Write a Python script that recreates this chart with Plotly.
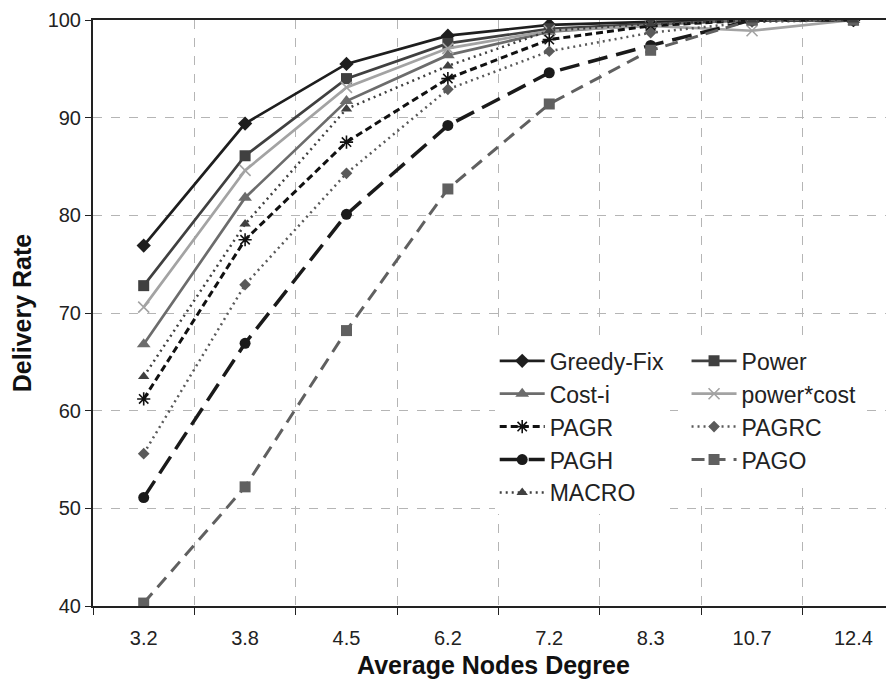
import plotly.graph_objects as go

categories = ["3.2", "3.8", "4.5", "6.2", "7.2", "8.3", "10.7", "12.4"]

greedy_fix = [76.9, 89.4, 95.5, 98.4, 99.5, 99.8, 100, 100]
power = [72.8, 86.1, 94.0, 97.6, 99.1, 99.6, 100, 100]
cost_i = [66.8, 81.8, 91.7, 96.4, 98.8, 99.5, 100, 100]
power_cost = [70.6, 84.6, 93.1, 97.1, 98.9, 99.4, 98.9, 100]
pagr = [61.2, 77.5, 87.5, 94.0, 98.0, 99.4, 100, 100]
pagrc = [55.6, 72.9, 84.3, 92.9, 96.8, 98.7, 99.8, 100]
pagh = [51.1, 66.9, 80.1, 89.2, 94.6, 97.4, 100, 100]
pago = [40.3, 52.2, 68.2, 82.7, 91.4, 96.9, 100, 100]
macro = [63.5, 79.1, 90.9, 95.3, 98.9, 99.6, 100, 100]

FONT = "Arial, Liberation Sans, sans-serif"

series = [
    # name, values, color, width, dash, symbol, size, legend
    ("Greedy-Fix", greedy_fix, "#1e1e1e", 2.7, "solid", "diamond", 11, "legend"),
    ("Power", power, "#404040", 2.7, "solid", "square", 11, "legend2"),
    ("Cost-i", cost_i, "#6c6c6c", 2.7, "solid", "triangle-up", 12, "legend"),
    ("power*cost", power_cost, "#a3a3a3", 2.7, "solid", "x-thin-open", 11, "legend2"),
    ("PAGR", pagr, "#111111", 3, "7px,4px", "asterisk-open", 11, "legend"),
    ("PAGRC", pagrc, "#5a5a5a", 2.5, "2px,4px", "diamond", 9, "legend2"),
    ("PAGH", pagh, "#1a1a1a", 3.5, "20px,9px", "circle", 11, "legend"),
    ("PAGO", pago, "#606060", 3, "13px,8px", "square", 11, "legend2"),
    ("MACRO", macro, "#404040", 2.5, "2px,4px", "triangle-up", 10, "legend"),
]

fig = go.Figure()
for name, vals, color, width, dash, symbol, size, leg in series:
    marker = dict(symbol=symbol, size=size, color=color)
    if "open" in symbol:
        marker["line"] = dict(color=color, width=1.6)
    fig.add_trace(go.Scatter(
        x=categories, y=vals, name=name, mode="lines+markers",
        line=dict(color=color, width=width, dash=dash),
        marker=marker, legend=leg,
    ))

fig.update_layout(
    width=886, height=671,
    margin=dict(l=85, r=0, t=12, b=73),
    plot_bgcolor="white", paper_bgcolor="white",
    font=dict(family=FONT, color="#222222"),
    legend=dict(x=0.5015, y=0.455, xanchor="left", yanchor="top",
                bgcolor="white", font=dict(size=23, family=FONT, color="#222222"),
                itemwidth=45, tracegroupgap=0),
    legend2=dict(x=0.741, y=0.455, xanchor="left", yanchor="top",
                 bgcolor="white", font=dict(size=23, family=FONT, color="#222222"),
                 itemwidth=45, tracegroupgap=0),
)

fig.update_xaxes(
    type="category", range=[-0.5, 7.4],
    tickson="boundaries", ticks="outside", ticklen=7, tickcolor="#222222",
    ticklabelstandoff=13,
    showline=True, linecolor="#222222", linewidth=2, mirror=True,
    showgrid=True, gridcolor="#b5b5b5", griddash="dash", gridwidth=1,
    tickfont=dict(size=20, family=FONT, color="#222222"),
    title=dict(text="<b>Average Nodes Degree</b>", font=dict(size=25, family=FONT, color="#111111"), standoff=9),
)
fig.update_yaxes(
    range=[40, 100], tickvals=[40, 50, 60, 70, 80, 90, 100],
    ticks="outside", ticklen=6, tickcolor="#222222",
    showline=True, linecolor="#222222", linewidth=2,
    showgrid=True, gridcolor="#b5b5b5", griddash="dash", gridwidth=1,
    zeroline=False,
    tickfont=dict(size=20, family=FONT, color="#222222"),
    title=dict(text="<b>Delivery Rate</b>", font=dict(size=25, family=FONT, color="#111111"), standoff=12),
)

fig.write_html("out.html")
